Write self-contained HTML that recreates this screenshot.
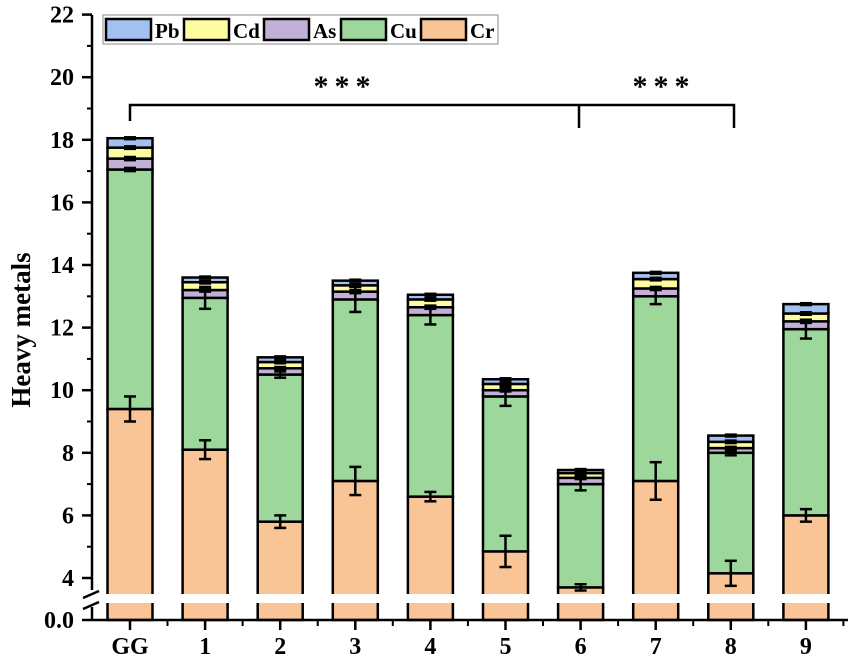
<!DOCTYPE html>
<html><head><meta charset="utf-8"><style>
body{margin:0;background:#fff;}
svg{display:block;}
text{font-family:"Liberation Serif","Times New Roman",serif;font-weight:bold;}
</style></head><body>
<svg id="chart" width="851" height="668" viewBox="0 0 851 668" font-family="Liberation Serif, serif" font-weight="bold"></svg>
<script>
const categories=["GG","1","2","3","4","5","6","7","8","9"];
const seriesNames=["Cr","Cu","As","Cd","Pb"];
const colors=["#f9c597","#9dd79c","#c2b0d7","#fefca0","#a2c1f0"];
// cumulative tops of each layer
const crTop=[9.4,8.1,5.8,7.1,6.6,4.85,3.7,7.1,4.15,6.0];
const cuTop=[17.05,12.95,10.5,12.9,12.4,9.8,7.0,13.0,8.0,11.95];
const asTop=[17.4,13.2,10.7,13.15,12.65,10.0,7.2,13.25,8.15,12.2];
const cdTop=[17.75,13.45,10.9,13.35,12.9,10.2,7.35,13.55,8.35,12.45];
const pbTop=[18.05,13.6,11.05,13.5,13.05,10.35,7.45,13.75,8.55,12.75];
const crErr=[0.4,0.3,0.2,0.45,0.15,0.5,0.1,0.6,0.4,0.2];
const cuErr=[0.05,0.35,0.1,0.4,0.3,0.3,0.2,0.25,0.08,0.3];
const asErr=[0.05,0.05,0.04,0.05,0.05,0.04,0.04,0.05,0.04,0.05];
const cdErr=[0.04,0.04,0.04,0.04,0.04,0.04,0.04,0.04,0.04,0.04];
const pbErr=[0.03,0.03,0.03,0.03,0.03,0.03,0.03,0.03,0.03,0.03];
const yTicks=[4,6,8,10,12,14,16,18,20,22];
const NS="http://www.w3.org/2000/svg";
const svg=document.getElementById("chart");
function el(t,a,p){const e=document.createElementNS(NS,t);for(const k in a)e.setAttribute(k,a[k]);(p||svg).appendChild(e);return e;}
const baseY=620, axX=92;
function y(v){ if(v<=3.5) return baseY-(v/3.5)*17; return 578-(v-4)*31.3; }
function x(i){return 130+i*75.1;}
const bw=45;
const tops=[crTop,cuTop,asTop,cdTop,pbTop];
const errs=[crErr,cuErr,asErr,cdErr,pbErr];
categories.forEach((c,i)=>{
  const g=el("g",{});
  
  
  let prev=0;
  tops.forEach((arr,s)=>{
    const y0=y(prev),y1=y(arr[i]);
    const r=el("rect",{x:x(i)-bw/2,y:y1,width:bw,height:y0-y1,fill:colors[s],stroke:"#000","stroke-width":2.5},g);
    
    
    prev=arr[i];
  });
  tops.forEach((arr,s)=>{
    const e=errs[s][i],yt=y(arr[i]+e),yb=y(arr[i]-e);
    el("line",{x1:x(i),x2:x(i),y1:yt,y2:yb,stroke:"#000","stroke-width":2.5},g);
    el("line",{x1:x(i)-6,x2:x(i)+6,y1:yt,y2:yt,stroke:"#000","stroke-width":2.5},g);
    el("line",{x1:x(i)-6,x2:x(i)+6,y1:yb,y2:yb,stroke:"#000","stroke-width":2.5},g);
  });
});
const gap=el("rect",{x:axX+2,y:594,width:760,height:9,fill:"#fff"});


el("line",{x1:axX,x2:axX,y1:15,y2:590,stroke:"#000","stroke-width":2.5});
el("line",{x1:axX,x2:axX,y1:607,y2:621,stroke:"#000","stroke-width":2.5});
el("line",{x1:83,x2:99,y1:598,y2:591,stroke:"#000","stroke-width":2.5});
el("line",{x1:83,x2:99,y1:609,y2:602,stroke:"#000","stroke-width":2.5});
yTicks.forEach(t=>{
  el("line",{x1:82,x2:axX,y1:y(t),y2:y(t),stroke:"#000","stroke-width":2.5});
  if(t<22) el("line",{x1:87,x2:axX,y1:y(t+1),y2:y(t+1),stroke:"#000","stroke-width":2});
  const tx=el("text",{x:74,y:y(t)+8,"text-anchor":"end","font-size":24});
  tx.textContent=t;
  
  
});
el("line",{x1:82,x2:axX,y1:baseY,y2:baseY,stroke:"#000","stroke-width":2.5});
const z=el("text",{x:74,y:baseY+8,"text-anchor":"end","font-size":24});z.textContent="0.0";


el("line",{x1:axX,x2:848,y1:baseY,y2:baseY,stroke:"#000","stroke-width":2.5});
categories.forEach((c,i)=>{
  el("line",{x1:x(i),x2:x(i),y1:baseY,y2:baseY+10,stroke:"#000","stroke-width":2.5});
  el("line",{x1:x(i)+37.5,x2:x(i)+37.5,y1:baseY,y2:baseY+6,stroke:"#000","stroke-width":2});
  const t=el("text",{x:x(i),y:654,"text-anchor":"middle","font-size":24});
  t.textContent=c;
  
  
});
const yt=el("text",{x:30,y:330,"text-anchor":"middle","font-size":27,transform:"rotate(-90 30 330)"});
yt.textContent="Heavy metals";


const br=el("path",{d:"M130,121 V105 H579 V128 M579,105 H734 V128",fill:"none",stroke:"#000","stroke-width":2.5});


[345,664].forEach(sx=>{
  const t=el("text",{x:sx,y:96,"text-anchor":"middle","font-size":30,"font-family":"Liberation Sans, sans-serif","letter-spacing":"6"});
  t.textContent="***";
  
  
});
const lg=el("g",{});


el("rect",{x:103,y:15,width:395,height:29,fill:"#fff",stroke:"#888","stroke-width":1},lg);
const legOrder=[4,3,2,1,0];
const lx=[106,184,264,341,421];
legOrder.forEach((s,k)=>{
  const r=el("rect",{x:lx[k],y:19,width:45,height:21,fill:colors[s],stroke:"#000","stroke-width":2.5},lg);
  
  
  const t=el("text",{x:lx[k]+49,y:38,"font-size":21},lg);
  t.textContent=seriesNames[s];
  
  
});
</script>
</body></html>
